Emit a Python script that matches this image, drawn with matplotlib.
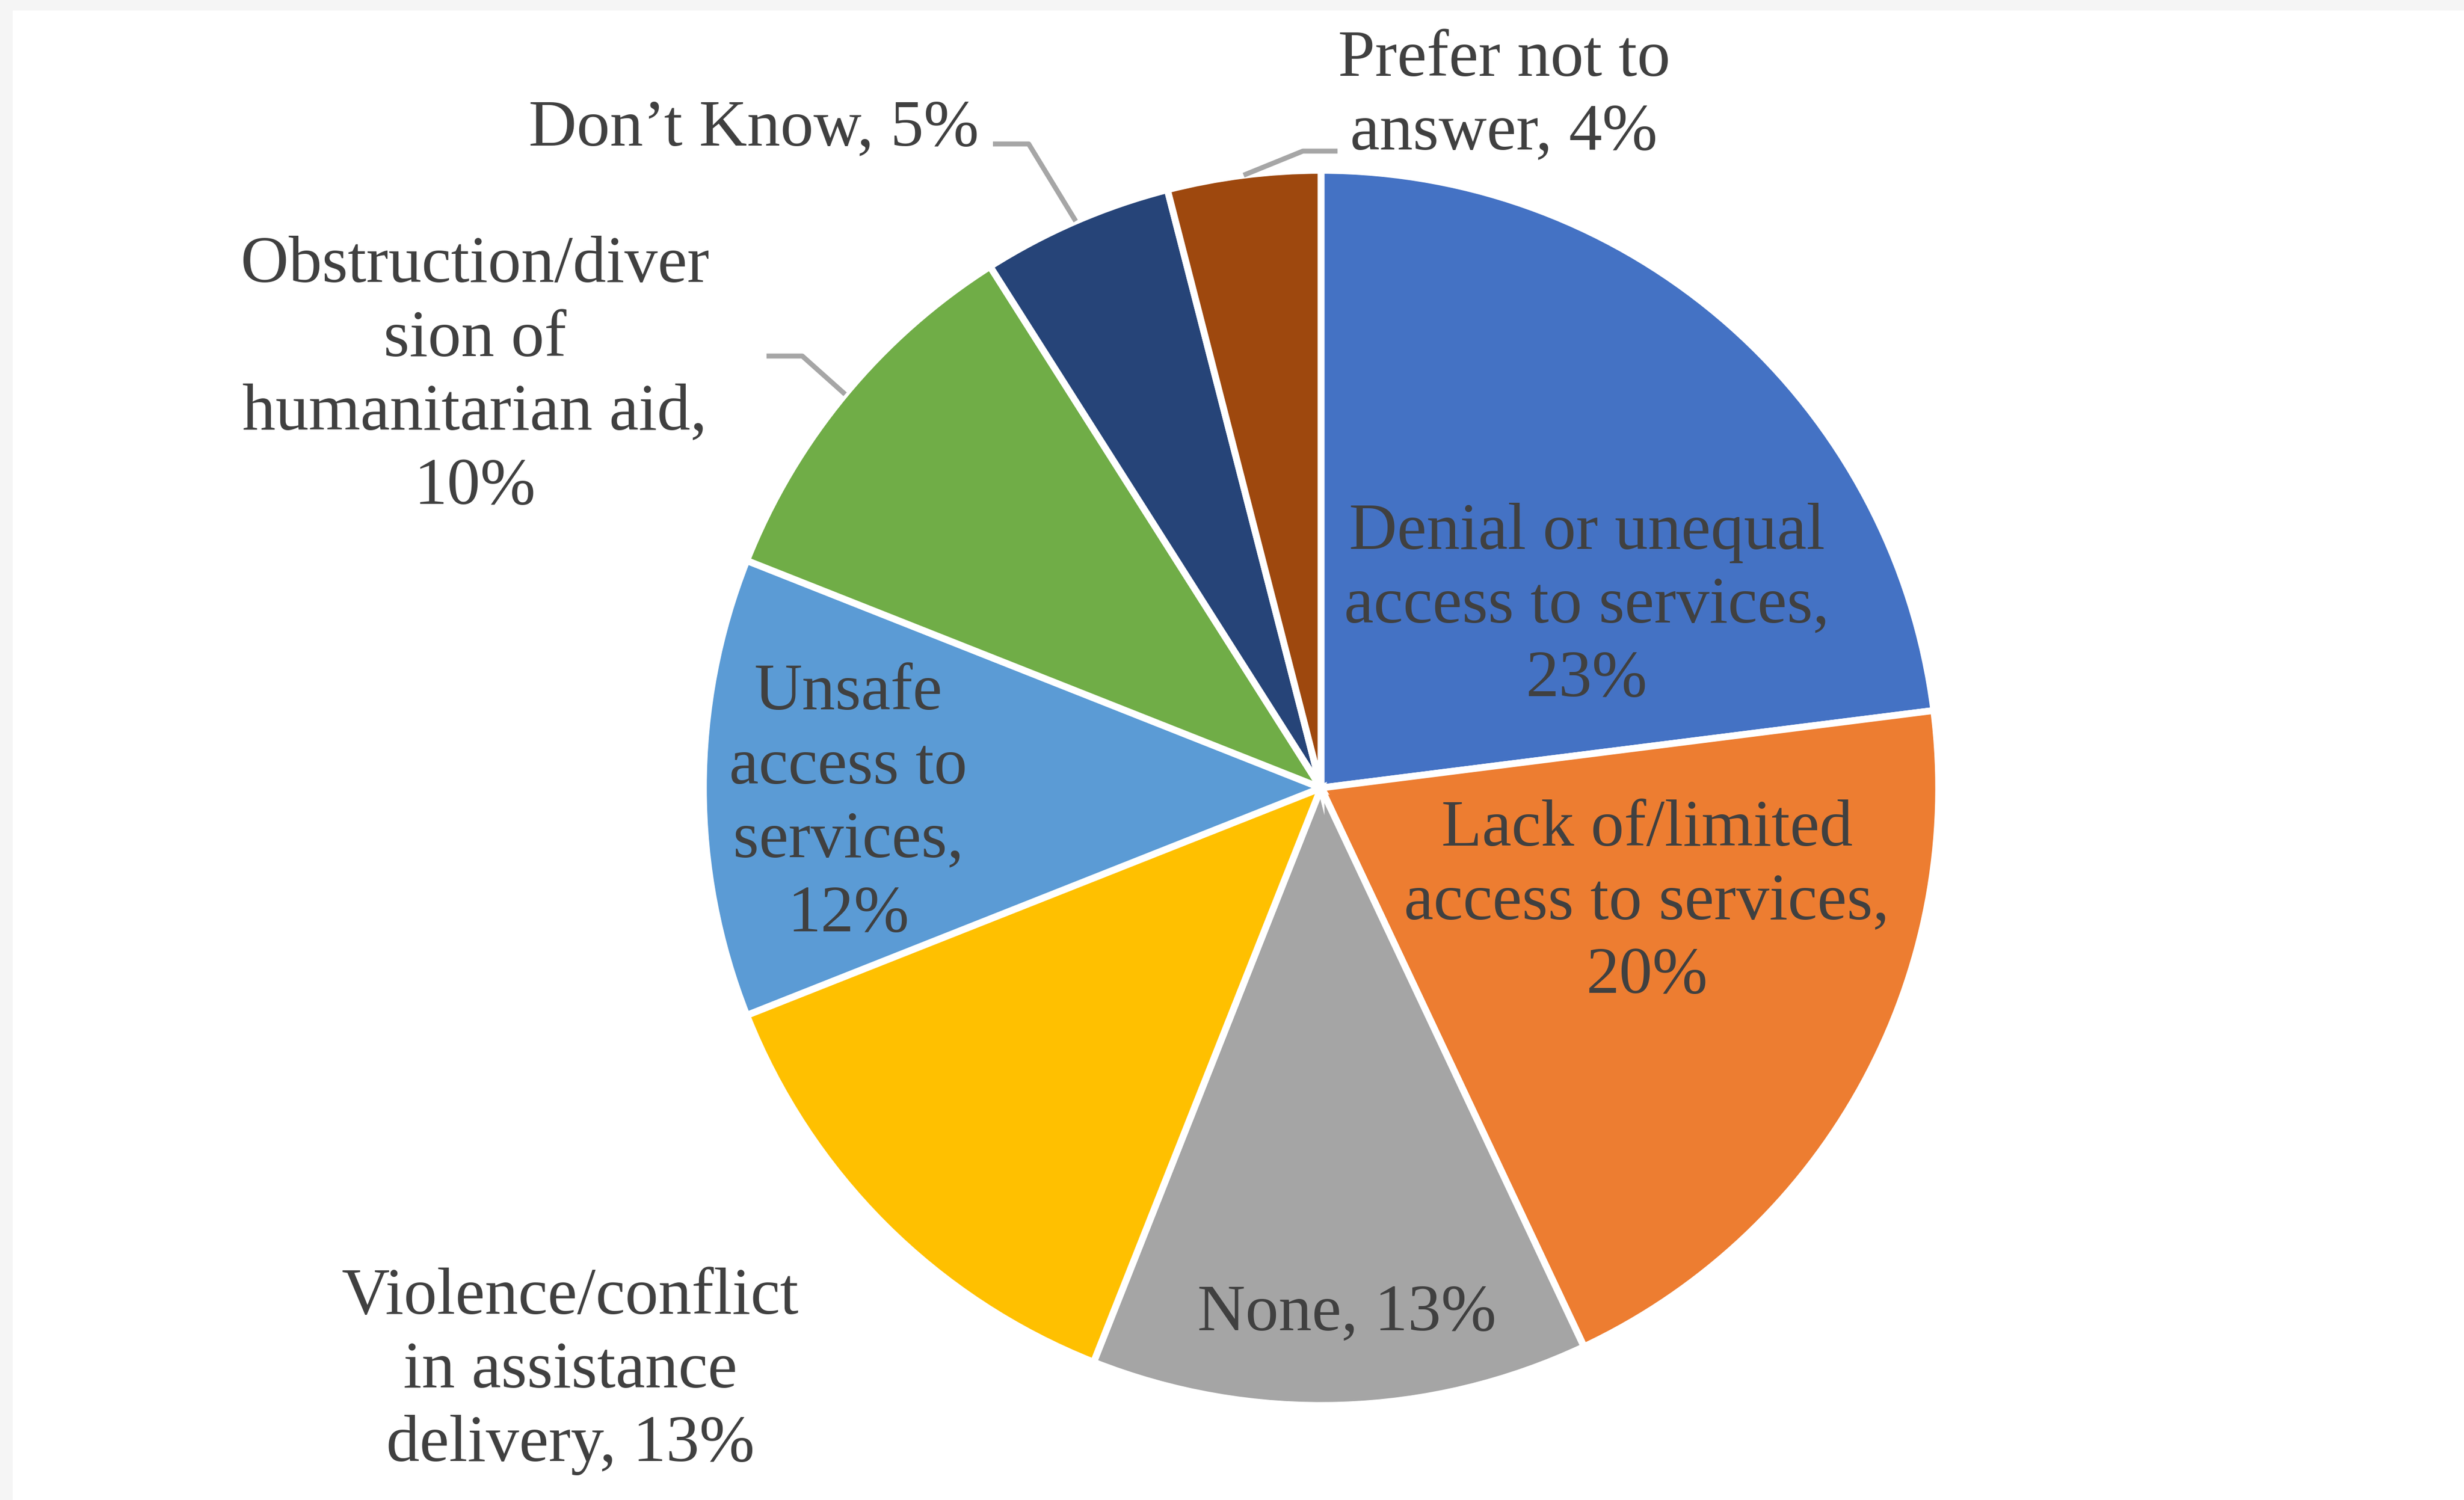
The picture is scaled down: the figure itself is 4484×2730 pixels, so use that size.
import matplotlib
matplotlib.use("Agg")
import matplotlib.pyplot as plt
import numpy as np
from matplotlib.patches import Rectangle

# data
categories = ["Denial or unequal access to services", "Lack of/limited access to services",
              "None", "Violence/conflict in assistance delivery", "Unsafe access to services",
              "Obstruction/diversion of humanitarian aid", "Don't Know", "Prefer not to answer"]
values = [23, 20, 13, 13, 12, 10, 5, 4]
labels = ["Denial or unequal\naccess to services,\n23%",
          "Lack of/limited\naccess to services,\n20%",
          "None, 13%",
          "Violence/conflict\nin assistance\ndelivery, 13%",
          "Unsafe\naccess to\nservices,\n12%",
          "Obstruction/diver\nsion of\nhumanitarian aid,\n10%",
          "Don\u2019t Know, 5%",
          "Prefer not to\nanswer, 4%"]
colors = ["#4472C4", "#ED7D31", "#A5A5A5", "#FFC000", "#5B9BD5", "#70AD47", "#264478", "#9E480E"]

W, H = 4484, 2730
fig = plt.figure(figsize=(W / 100, H / 100), dpi=100)
fig.patch.set_facecolor("white")
# light grey frame on top and left edges
fig.patches.append(Rectangle((0, H - 18), W, 18, transform=None, color="#F5F5F5", zorder=0))
fig.patches.append(Rectangle((0, 0), 22, H, transform=None, color="#F5F5F5", zorder=0))

ax = fig.add_axes([0, 0, 1, 1])
cx, cy, R = 2404, H - 1434, 1124
wedges, _ = ax.pie(values, colors=colors, startangle=90, counterclock=False,
                   center=(cx, cy), radius=R,
                   wedgeprops=dict(edgecolor="white", linewidth=9))
ax.set_xlim(0, W)
ax.set_ylim(0, H)
ax.set_aspect("equal")
ax.axis("off")

txt = dict(fontfamily="Liberation Serif", fontsize=87, color="#404040",
           linespacing=1.29, va="center")

# label anchor positions (pixel coords from top-left), alignment
label_pos = [(2888, 1104, "center"), (2997, 1644, "center"), (2451, 2392, "center"),
             (1038, 2496, "center"), (1544, 1464, "center"), (864, 686, "center"),
             (1782, 236, "right"), (2737, 176, "center")]
for lab, (x, y, ha) in zip(labels, label_pos):
    ax.text(x, H - y, lab, ha=ha, multialignment="center", **txt)

# leader lines for outside labels: elbow and end points (pixel coords)
leaders = {5: [(1460, 648), (1395, 648)],
           6: [(1872, 262), (1807, 262)],
           7: [(2371, 275), (2434, 275)]}
for i, pts in leaders.items():
    w = wedges[i]
    mid = np.deg2rad((w.theta1 + w.theta2) / 2)
    ex, ey = cx + R * np.cos(mid), cy + R * np.sin(mid)
    xs = [ex] + [p[0] for p in pts]
    ys = [ey] + [H - p[1] for p in pts]
    ax.plot(xs, ys, color="#A6A6A6", lw=6.5, solid_capstyle="butt")

fig.savefig("out.png", dpi=100, facecolor=fig.get_facecolor())
